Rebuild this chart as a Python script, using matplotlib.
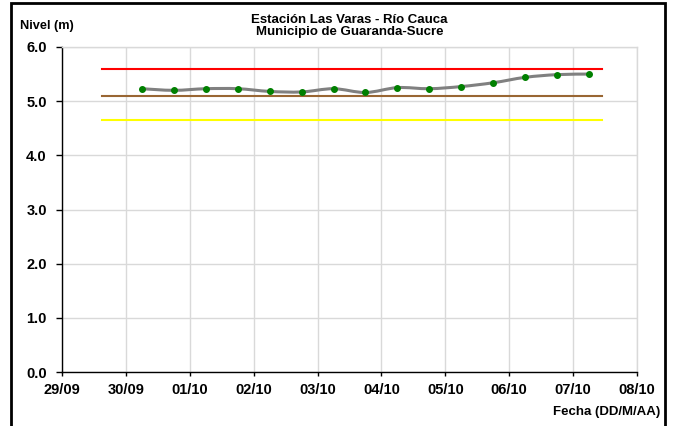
import matplotlib
matplotlib.use('Agg')

import matplotlib.pyplot as plt
import matplotlib.dates as mdates
from matplotlib.path import Path
from matplotlib.patches import PathPatch, Rectangle
from datetime import datetime, timedelta
import numpy as np

plt.rcParams['font.family'] = ['Liberation Sans', 'DejaVu Sans']

# Level readings every 12 hours
start = datetime(2011, 9, 30, 6)
fechas = [start + timedelta(hours=12 * i) for i in range(15)]
nivel = [5.23, 5.20, 5.23, 5.23, 5.18, 5.17, 5.23, 5.16,
         5.25, 5.23, 5.27, 5.34, 5.44, 5.49, 5.50]

# Alert thresholds (m)
umbral_rojo = 5.6
umbral_naranja = 5.1
umbral_amarillo = 4.65
umbral_inicio = datetime(2011, 9, 29, 15)
umbral_fin = datetime(2011, 10, 7, 11)

dias = [datetime(2011, 9, 29) + timedelta(days=d) for d in range(10)]


def smooth_path(x, y, t=1.0 / 6):
    # Bezier curve through every point, spreadsheet style smoothing
    x = np.asarray(x, float)
    y = np.asarray(y, float)
    verts = [(x[0], y[0])]
    codes = [Path.MOVETO]
    n = len(x)
    for i in range(n - 1):
        p0 = i - 1 if i > 0 else i
        p3 = i + 2 if i + 2 < n else i + 1
        c1 = (x[i] + (x[i + 1] - x[p0]) * t, y[i] + (y[i + 1] - y[p0]) * t)
        c2 = (x[i + 1] - (x[p3] - x[i]) * t, y[i + 1] - (y[p3] - y[i]) * t)
        verts += [c1, c2, (x[i + 1], y[i + 1])]
        codes += [Path.CURVE4] * 3
    return Path(verts, codes)


fig = plt.figure(figsize=(6.73, 4.26), dpi=100)
ax = fig.add_axes([62 / 673, 1 - 372 / 426, 575 / 673, 325 / 426])

ax.set_xlim(dias[0], dias[-1])
ax.set_ylim(0, 6)

xs = mdates.date2num(fechas)
ax.add_patch(PathPatch(smooth_path(xs, nivel), facecolor='none',
                       edgecolor='#808080', lw=2.2, zorder=3))
ax.plot(fechas, nivel, ls='none', marker='o', ms=4.0, color='#008000', zorder=4)

for val, col in [(umbral_rojo, '#ff0000'), (umbral_naranja, '#996633'),
                 (umbral_amarillo, '#ffff00')]:
    ax.plot([umbral_inicio, umbral_fin], [val, val], color=col, lw=1.5, zorder=2)

ax.set_xticks(dias)
ax.xaxis.set_major_formatter(mdates.DateFormatter('%d/%m'))
ax.set_yticks(np.arange(0, 6.1, 1.0))
ax.yaxis.set_major_formatter(matplotlib.ticker.FormatStrFormatter('%.1f'))

ax.grid(True, color='#d9d9d9', lw=1.0)
ax.set_axisbelow(True)
for s in ['top', 'right']:
    ax.spines[s].set_color('#d9d9d9')
    ax.spines[s].set_linewidth(1.0)
for s in ['left', 'bottom']:
    ax.spines[s].set_linewidth(1.0)

ax.tick_params(axis='x', direction='out', length=3, width=1, pad=5,
               labelsize=10.5)
ax.tick_params(axis='y', direction='out', length=4, width=1, pad=7,
               labelsize=10.5)
for lbl in ax.get_xticklabels() + ax.get_yticklabels():
    lbl.set_fontweight('bold')

cx = 349.5 / 673
fig.text(cx, 1 - 23.3 / 426, 'Estación Las Varas - Río Cauca',
         ha='center', va='baseline', fontsize=9.5, fontweight='bold')
fig.text(cx, 1 - 35 / 426, 'Municipio de Guaranda-Sucre',
         ha='center', va='baseline', fontsize=9.5, fontweight='bold')
fig.text(20 / 673, 1 - 29 / 426, 'Nivel (m)', ha='left', va='baseline',
         fontsize=9.2, fontweight='bold')
fig.text(660 / 673, 1 - 415.5 / 426, 'Fecha (DD/M/AA)', ha='right',
         va='baseline', fontsize=9.5, fontweight='bold')

# outer frame
fig.patches.append(Rectangle((11 / 673, -0.05), 654 / 673, 1.05 - 3 / 426,
                             transform=fig.transFigure, fill=False,
                             edgecolor='black', lw=2.0, clip_on=False))

plt.savefig('out.png', dpi=100)
